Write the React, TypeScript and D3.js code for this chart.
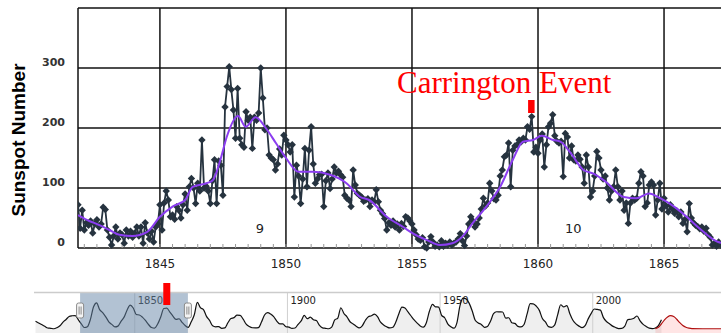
import React from 'react';
import * as d3 from 'd3';

// Monthly sunspot numbers, Oct 1841 onwards (one row per year)
const monthlyStart = 1841.75;
const monthlySpots = [
  72, 33, 63,
  30, 42, 38, 45, 25, 40, 47, 35, 40, 68, 64, 30,
  18, 5, 20, 35, 15, 25, 22, 8, 30, 20, 28, 18,
  25, 35, 20, 35, 8, 42, 25, 15, 28, 10, 35, 40,
  72, 30, 75, 95, 80, 52, 55, 48, 69, 63, 50, 72,
  90, 63, 102, 116, 100, 74, 108, 95, 180, 100, 103, 95,
  74, 112, 147, 74, 145, 138, 88, 235, 269, 302, 264, 230,
  183, 266, 183, 172, 168, 227, 213, 218, 166, 218, 213, 225,
  300, 250, 197, 200, 155, 150, 147, 130, 140, 165, 155, 188,
  180, 172, 160, 172, 85, 138, 120, 74, 115, 166, 102, 163,
  202, 140, 108, 115, 122, 123, 69, 112, 125, 99, 115, 135,
  125, 128, 122, 118, 88, 83, 80, 69, 130, 105, 91, 88,
  85, 78, 80, 82, 69, 80, 77, 97, 77, 63, 57, 49,
  30, 42, 38, 45, 35, 40, 30, 41, 36, 52, 50, 45,
  40, 30, 22, 15, 13, 17, 2, 0, 10, 19, 10, 3,
  5, 2, 12, 3, 8, 5, 10, 5, 8, 10, 15, 24,
  12, 4, 20, 40, 52, 45, 35, 40, 50, 65, 83, 70,
  75, 108, 95, 82, 80, 88, 120, 130, 152, 155, 175, 102,
  163, 170, 172, 180, 177, 183, 180, 202, 198, 219, 160, 168,
  158, 180, 190, 135, 172, 202, 208, 222, 187, 178, 175, 178,
  119, 191, 185, 150, 170, 147, 145, 155, 148, 135, 108, 155,
  135, 85, 95, 120, 161, 150, 130, 115, 120, 100, 80, 95,
  102, 130, 102, 80, 95, 63, 75, 41, 75, 83, 80, 83,
  108, 127, 120, 69, 75, 105, 110, 105, 55, 80, 108, 65,
  83, 70, 60, 72, 65, 58, 62, 52, 60, 41, 48, 27,
  74, 50, 42, 38, 36, 32, 35, 28, 33, 22, 18, 5,
  8, 3, 10, 5,
];

// smoothed curve (purple)
const smoothYears = [
  1841.75, 1842.1, 1842.6, 1843.0, 1843.4, 1843.9, 1844.5, 1845.0, 1845.5, 1846.0,
  1846.3, 1846.85, 1847.1, 1847.4, 1847.65, 1848.1, 1848.4, 1848.8, 1849.2, 1849.6,
  1850.0, 1850.5, 1851.1, 1851.75, 1852.4, 1852.95, 1853.3, 1854.0, 1854.65, 1855.05,
  1855.6, 1856.1, 1856.6, 1857.0, 1857.4, 1857.95, 1858.5, 1859.0, 1859.4, 1859.8,
  1860.15, 1860.6, 1860.9, 1861.3, 1861.8, 1862.2, 1862.7, 1863.4, 1863.9, 1864.4,
  1864.85, 1865.4, 1865.9, 1866.4, 1867.15, 1867.4,
];
const smoothValues = [
  55, 47, 38, 30, 22, 20, 27, 52, 69, 80,
  102, 108, 113, 147, 185, 220, 202, 218, 200, 175,
  150, 127, 127, 122, 108, 85, 80, 52, 35, 24,
  13, 5, 8, 19, 41, 69, 102, 147, 177, 180,
  187, 180, 177, 158, 130, 124, 110, 85, 83, 91,
  83, 69, 52, 33, 10, 8,
];

const yTicks = [0, 100, 200, 300];
const xTicks = [1845, 1850, 1855, 1860, 1865];
const cycleLabels = ['9', '10'];
const cycleYears = [1848.97, 1861.4];
const eventLabel = 'Carrington Event';
const eventYear = 1859.67;

// navigator: yearly means from 1817
const navStart = 1817;
const navYearly = [
  68, 53, 39, 24, 9, 6, 2, 11, 28, 60, 83, 109, 115, 117, 81, 44, 13, 20, 86, 193,
  227, 169, 143, 106, 63, 40, 18, 25, 66, 103, 166, 208, 183, 126, 122, 103, 74, 39, 13, 8,
  43, 104, 178, 182, 147, 112, 84, 89, 58, 31, 14, 63, 124, 232, 185, 169, 110, 75, 28, 19,
  21, 6, 10, 54, 91, 99, 120, 118, 86, 42, 22, 11, 10, 12, 60, 122, 142, 130, 107, 69,
  44, 44, 20, 16, 5, 9, 41, 70, 118, 90, 103, 81, 73, 31, 10, 6, 2, 16, 79, 95,
  185, 135, 106, 63, 44, 24, 10, 28, 74, 107, 115, 130, 108, 59, 35, 19, 9, 15, 60, 133,
  191, 183, 148, 113, 79, 51, 27, 16, 55, 154, 215, 193, 191, 119, 98, 45, 20, 7, 54, 201,
  269, 262, 225, 159, 76, 53, 40, 15, 22, 67, 133, 150, 149, 148, 94, 98, 54, 49, 23, 18,
  39, 131, 220, 219, 199, 162, 91, 61, 21, 15, 34, 123, 211, 192, 203, 133, 76, 45, 25, 12,
  29, 88, 136, 174, 170, 164, 99, 65, 46, 25, 13, 4, 5, 25, 81, 85, 94, 113, 70, 40,
  22, 7, 4, 9, 30, 80,
];
const predYears = [2020.5, 2021.5, 2022.5, 2023.5, 2024.5, 2025.5, 2026.5, 2027.5, 2028.5, 2029.5, 2030.5, 2031.5, 2032.5, 2036, 2042];
const predValues = [3, 15, 45, 80, 105, 116, 108, 85, 55, 30, 15, 7, 3, 2, 2];
const navTicks = [1850, 1900, 1950, 2000];
const navSelection = [1832.1, 1867.4];

const diamond = 'M0,-3.7L3.7,0L0,3.7L-3.7,0Z';

export default function App() {
  const x = d3.scaleLinear().domain([1841.75, 1867.26]).range([78, 721]);
  const y = d3.scaleLinear().domain([0, 400]).range([248, 8]);

  const months = monthlySpots.map((v, i) => ({ t: monthlyStart + i / 12, v }));
  const smooth = smoothYears.map((t, i) => ({ t, v: smoothValues[i] }));

  const dataLine = d3.line<{ t: number; v: number }>().x(d => x(d.t)).y(d => y(d.v));
  const smoothLine = d3
    .line<{ t: number; v: number }>()
    .x(d => x(d.t))
    .y(d => y(d.v))
    .curve(d3.curveMonotoneX);

  const minorTicks = d3.range(1842, 1867.5, 0.5);

  // navigator scales
  const nx = d3.scaleLinear().domain([1817, 2042]).range([34, 721]);
  const ny = d3.scaleLinear().domain([0, 300]).range([329, 294.5]);
  const nav = navYearly.map((v, i) => ({ t: navStart + i + 0.5, v }));
  const pred = predYears.map((t, i) => ({ t, v: predValues[i] }));
  const navLine = d3.line<{ t: number; v: number }>().x(d => nx(d.t)).y(d => ny(d.v)).curve(d3.curveMonotoneX);
  const navArea = d3
    .area<{ t: number; v: number }>()
    .x(d => nx(d.t))
    .y0(333)
    .y1(d => ny(d.v))
    .curve(d3.curveMonotoneX);

  const selX0 = nx(navSelection[0]);
  const selX1 = nx(navSelection[1]);

  return (
    <svg
      width={721}
      height={333}
      style={{ position: 'absolute', left: 0, top: 0, background: '#fff' }}
    >
      <defs>
        <clipPath id="plot">
          <rect x={78} y={8} width={643} height={244} />
        </clipPath>
      </defs>

      {/* grid */}
      {yTicks.map(t => (
        <line key={'h' + t} x1={78} x2={721} y1={y(t)} y2={y(t)} stroke="#111" strokeWidth={1.5} />
      ))}
      <line x1={78} x2={721} y1={8} y2={8} stroke="#111" strokeWidth={1.5} />
      <line x1={78} x2={78} y1={8} y2={248} stroke="#111" strokeWidth={1.5} />
      {xTicks.map(t => (
        <line key={'v' + t} x1={x(t)} x2={x(t)} y1={8} y2={248} stroke="#111" strokeWidth={1.5} />
      ))}
      {minorTicks.map(t => (
        <line key={'m' + t} x1={x(t)} x2={x(t)} y1={244} y2={248} stroke="#999" strokeWidth={1} />
      ))}

      {/* axis labels */}
      {yTicks.map(t => (
        <text
          key={'yl' + t}
          x={65}
          y={y(t) - 2}
          textAnchor="end"
          fontFamily="DejaVu Sans, sans-serif"
          fontWeight="bold"
          fontSize={11}
          fill="#333"
        >
          {t}
        </text>
      ))}
      {xTicks.map(t => (
        <text
          key={'xl' + t}
          x={x(t)}
          y={268}
          textAnchor="middle"
          fontFamily="DejaVu Sans, sans-serif"
          fontSize={12}
          fill="#222"
        >
          {t}
        </text>
      ))}
      <text
        transform="translate(25,140) rotate(-90)"
        textAnchor="middle"
        fontFamily="Liberation Sans, Arial, sans-serif"
        fontWeight="bold"
        fontSize={19}
        fill="#000"
      >
        Sunspot Number
      </text>

      {cycleLabels.map((c, i) => (
        <text
          key={'c' + c}
          x={x(cycleYears[i])}
          y={233}
          textAnchor="middle"
          fontFamily="DejaVu Sans, sans-serif"
          fontSize={13}
          fill="#222"
        >
          {c}
        </text>
      ))}

      {/* data */}
      <g clipPath="url(#plot)">
        <path d={dataLine(months) ?? ''} fill="none" stroke="#26333f" strokeWidth={1.8} />
        {months.map((d, i) => (
          <path key={i} d={diamond} transform={`translate(${x(d.t)},${y(d.v)})`} fill="#26333f" />
        ))}
        <path d={smoothLine(smooth) ?? ''} fill="none" stroke="#8b3df0" strokeWidth={2} />
      </g>

      {/* event annotation */}
      <text
        x={397}
        y={93}
        fontFamily="Liberation Serif, Times New Roman, serif"
        fontSize={31}
        fill="#ff0000"
      >
        {eventLabel}
      </text>
      <rect x={x(eventYear) - 1.6} y={100} width={6.5} height={13} fill="#ff0000" />

      {/* navigator */}
      <path d={navArea(nav) ?? ''} fill="#efefef" />
      <path d={navArea(pred) ?? ''} fill="rgba(255,0,0,0.1)" />
      {navTicks.map(t => (
        <g key={'n' + t}>
          <line x1={nx(t)} x2={nx(t)} y1={293} y2={333} stroke="#cfcfcf" strokeWidth={1} />
          <text
            x={nx(t) + 3}
            y={304}
            fontFamily="DejaVu Sans, sans-serif"
            fontSize={10}
            fill="#222"
          >
            {t}
          </text>
        </g>
      ))}
      <path d={navLine(nav) ?? ''} fill="none" stroke="#111" strokeWidth={1.2} />
      <path d={navLine(pred) ?? ''} fill="none" stroke="#b01010" strokeWidth={1.2} />
      <rect x={selX0} y={293} width={selX1 - selX0} height={40} fill="#6685a8" fillOpacity={0.5} />
      <line x1={34} x2={721} y1={292.5} y2={292.5} stroke="#cccccc" strokeWidth={1.5} />
      {[selX0, selX1].map((hx, i) => (
        <g key={'hd' + i}>
          <rect x={hx - 3.5} y={303} width={7} height={15} rx={2} fill="#f4f4f4" stroke="#8a8a8a" strokeWidth={1} />
          <line x1={hx - 1} x2={hx - 1} y1={306.5} y2={314.5} stroke="#8a8a8a" strokeWidth={1} />
          <line x1={hx + 1} x2={hx + 1} y1={306.5} y2={314.5} stroke="#8a8a8a" strokeWidth={1} />
        </g>
      ))}
      <rect x={nx(eventYear) - 1} y={283} width={7} height={22} fill="#ff0000" />
    </svg>
  );
}
